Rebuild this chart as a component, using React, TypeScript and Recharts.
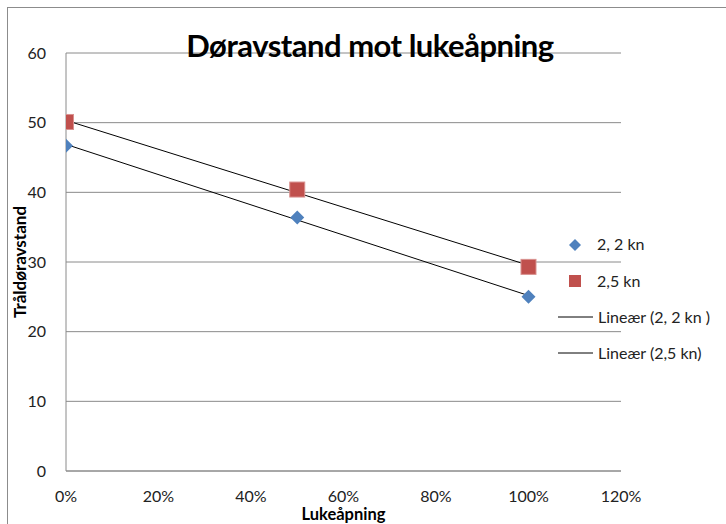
import React from "react";
import { ComposedChart, Scatter, XAxis, YAxis, CartesianGrid } from "recharts";

const openings = [0, 0.5, 1.0];
const speed22 = [46.7, 36.4, 25.0];
const speed25 = [50.1, 40.4, 29.3];
const xTicks = [0, 0.2, 0.4, 0.6, 0.8, 1.0, 1.2];
const yTicks = [0, 10, 20, 30, 40, 50, 60];
const seriesNames = ["2, 2 kn", "2,5 kn", "Lineær (2, 2 kn )", "Lineær (2,5 kn)"];

const BLUE = "#4F81BD";
const RED = "#C0504D";
const FONT = "Lato, 'Open Sans', sans-serif";

function linFit(xs: number[], ys: number[]) {
  const n = xs.length;
  const mx = xs.reduce((a, b) => a + b, 0) / n;
  const my = ys.reduce((a, b) => a + b, 0) / n;
  let sxy = 0, sxx = 0;
  for (let i = 0; i < n; i++) {
    sxy += (xs[i] - mx) * (ys[i] - my);
    sxx += (xs[i] - mx) * (xs[i] - mx);
  }
  const slope = sxy / sxx;
  const icpt = my - slope * mx;
  const x0 = Math.min(...xs), x1 = Math.max(...xs);
  return [{ x: x0, y: icpt + slope * x0 }, { x: x1, y: icpt + slope * x1 }];
}

const pts22 = openings.map((x, i) => ({ x, y: speed22[i] }));
const pts25 = openings.map((x, i) => ({ x, y: speed25[i] }));
const trend22 = linFit(openings, speed22);
const trend25 = linFit(openings, speed25);

const Diamond = (props: any) => {
  const { cx, cy } = props;
  const r = 7;
  return <path d={`M${cx},${cy - r}L${cx + r},${cy}L${cx},${cy + r}L${cx - r},${cy}Z`} fill={BLUE} />;
};
const Square = (props: any) => {
  const { cx, cy } = props;
  const s = 7.5;
  return <rect x={cx - s} y={cy - s} width={2 * s} height={2 * s} fill={RED} stroke="#D9918F" strokeWidth={1} />;
};
const NoShape = () => null;

const LegendBox = () => (
  <svg width={170} height={140} style={{ fontFamily: FONT, display: "block" }}>
    <path d="M17,8L23,14L17,20L11,14Z" fill={BLUE} />
    <text x={39} y={19} fontSize={16} fill="#222">{seriesNames[0]}</text>
    <rect x={11} y={44} width={12} height={12} fill={RED} />
    <text x={39} y={56} fontSize={16} fill="#222">{seriesNames[1]}</text>
    <line x1={0} x2={35} y1={86} y2={86} stroke="#000" strokeWidth={1} />
    <text x={40} y={92} fontSize={16} fill="#222">{seriesNames[2]}</text>
    <line x1={0} x2={35} y1={122} y2={122} stroke="#000" strokeWidth={1} />
    <text x={40} y={128} fontSize={16} fill="#222">{seriesNames[3]}</text>
  </svg>
);

export default function App() {
  return (
    <div style={{ position: "fixed", left: 0, top: 0, width: 726, height: 524, overflow: "hidden", background: "#fff" }}>
      <div style={{ position: "absolute", left: 7, top: 7, width: 760, height: 560, border: "1px solid #8c8c8c" }} />
      <div style={{ position: "absolute", left: 0, top: 0 }}>
        <ComposedChart width={726} height={524} margin={{ top: 53, right: 105, left: 0, bottom: 0 }}>
          <CartesianGrid vertical={false} stroke="#8a8a8a" strokeWidth={1} />
          <XAxis
            type="number"
            dataKey="x"
            domain={[0, 1.2]}
            ticks={xTicks}
            tickFormatter={(v: number) => `${Math.round(v * 100)}%`}
            height={53}
            axisLine={{ stroke: "#8a8a8a" }}
            tickLine={false}
            tick={{ fontSize: 16, fill: "#222", fontFamily: FONT }}
            tickMargin={14}
            interval={0}
            allowDataOverflow
            label={{ value: "Lukeåpning", position: "insideBottom", offset: 0, dy: -4, style: { fontSize: 16.5, fontWeight: 700, fill: "#000", fontFamily: FONT } }}
          />
          <YAxis
            type="number"
            dataKey="y"
            domain={[0, 60]}
            ticks={yTicks}
            width={66}
            axisLine={{ stroke: "#8a8a8a" }}
            tickLine={false}
            tick={{ fontSize: 16, fill: "#222", fontFamily: FONT }}
            tickMargin={14}
            interval={0}
            label={{ value: "Tråldøravstand", angle: -90, position: "insideLeft", offset: 0, dx: 20, style: { textAnchor: "middle", fontSize: 17, fontWeight: 700, fill: "#000", fontFamily: FONT } }}
          />
          <Scatter name={seriesNames[2]} data={trend22} line={{ stroke: "#000", strokeWidth: 1 }} shape={NoShape} isAnimationActive={false} legendType="none" />
          <Scatter name={seriesNames[3]} data={trend25} line={{ stroke: "#000", strokeWidth: 1 }} shape={NoShape} isAnimationActive={false} legendType="none" />
          <Scatter name={seriesNames[0]} data={pts22} shape={Diamond} isAnimationActive={false} />
          <Scatter name={seriesNames[1]} data={pts25} shape={Square} isAnimationActive={false} />
        </ComposedChart>
      </div>
      <div
        style={{
          position: "absolute",
          left: 0,
          top: 26,
          width: 740,
          textAlign: "center",
          fontFamily: FONT,
          fontWeight: 700,
          fontSize: 31,
          color: "#000",
          letterSpacing: -0.5,
          whiteSpace: "nowrap",
        }}
      >
        Døravstand mot lukeåpning
      </div>
      <div style={{ position: "absolute", left: 558, top: 231 }}>
        <LegendBox />
      </div>
    </div>
  );
}
